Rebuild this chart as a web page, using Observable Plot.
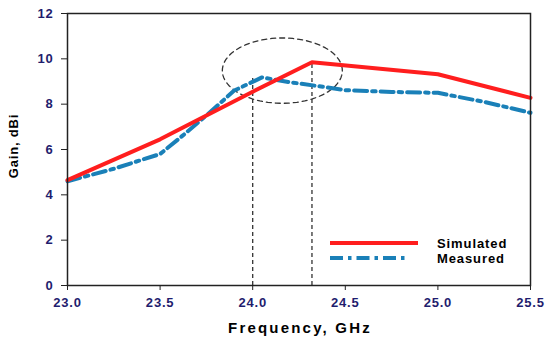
<!DOCTYPE html>
<html>
<head>
<meta charset="utf-8">
<script src="https://cdn.jsdelivr.net/npm/d3@7"></script>
<script src="https://cdn.jsdelivr.net/npm/@observablehq/plot@0.6"></script>
<style>
  body { margin: 0; background: #fff; font-family: "Liberation Sans", Arial, sans-serif; }
  #wrap { position: relative; width: 550px; height: 342px; }
  #overlay { position: absolute; left: 0; top: 0; pointer-events: none; }
  #wrap g[aria-label="x-axis tick label"] text, #wrap g[aria-label="y-axis tick label"] text { letter-spacing: 0.8px; }
</style>
</head>
<body>
<div id="wrap"></div>
<script>
// Data
const simFreq = [23.0, 23.5, 24.0, 24.32, 25.0, 25.5];
const simGain = [4.65, 6.45, 8.55, 9.85, 9.32, 8.28];

const measFreq = [23.0, 23.25, 23.5, 23.62, 23.75, 23.9, 24.05, 24.2, 24.35, 24.5, 24.75, 25.0, 25.25, 25.5];
const measGain = [4.6, 5.15, 5.8, 6.6, 7.5, 8.6, 9.18, 8.97, 8.8, 8.62, 8.54, 8.5, 8.1, 7.62];

const xTicks = [23.0, 23.5, 24.0, 24.5, 25.0, 25.5];
const yTicks = [0, 2, 4, 6, 8, 10, 12];

// Annotation: dashed markers at the two peaks and the ellipse around them
const markerFreq = [24.0, 24.32];
const markerGain = [9.15, 9.85];
const ellipseCenter = {x: 24.16, y: 9.48};
const ellipseRadius = {x: 0.324, y: 1.44};

const simulated = simFreq.map((f, i) => ({f, g: simGain[i]}));
const measured = measFreq.map((f, i) => ({f, g: measGain[i]}));
const markers = markerFreq.map((f, i) => ({f, g: markerGain[i]}));
const ellipse = d3.range(0, 361, 4).map(a => ({
  f: ellipseCenter.x + ellipseRadius.x * Math.cos(a * Math.PI / 180),
  g: ellipseCenter.y + ellipseRadius.y * Math.sin(a * Math.PI / 180)
}));

const navy = "#1f1d6e";
const red = "#ff1e1e";
const blue = "#1a80b8";
const dashDot = "13,5,3.5,5";
const font = "Liberation Sans, Arial, sans-serif";

const chart = Plot.plot({
  width: 550,
  height: 342,
  marginLeft: 67,
  marginRight: 20,
  marginTop: 13,
  marginBottom: 57,
  style: {fontFamily: font, background: "#fff"},
  x: {domain: [23, 25.5]},
  y: {domain: [0, 12]},
  marks: [
    Plot.ruleX(markers, {x: "f", y1: 0, y2: "g", stroke: "#333", strokeWidth: 1.3, strokeDasharray: "4,3"}),
    Plot.line(ellipse, {x: "f", y: "g", stroke: "#333", strokeWidth: 1.3, strokeDasharray: "5,4"}),
    Plot.line(measured, {x: "f", y: "g", stroke: blue, strokeWidth: 4, strokeDasharray: dashDot, strokeLinejoin: "round"}),
    Plot.line(simulated, {x: "f", y: "g", stroke: red, strokeWidth: 4, strokeLinejoin: "round"}),
    Plot.frame({stroke: "#222", strokeWidth: 1.5}),
    Plot.axisX({ticks: xTicks, tickFormat: d3.format(".1f"), tickSize: 5, tickPadding: 7,
      fontSize: 13, fontWeight: "bold", color: navy, stroke: "#222", label: null}),
    Plot.axisY({ticks: yTicks, tickSize: 6, tickPadding: 8,
      fontSize: 13, fontWeight: "bold", color: navy, stroke: "#222", label: null})
  ]
});

document.getElementById("wrap").appendChild(chart);

// Axis titles and in-plot legend as an overlay
const ov = d3.select("#wrap").append("svg").attr("id", "overlay")
  .attr("width", 550).attr("height", 342);

ov.append("text").attr("x", 300).attr("y", 333)
  .attr("text-anchor", "middle").attr("font-size", 15).attr("font-weight", "bold")
  .attr("letter-spacing", "2.2px").attr("fill", "#000").attr("font-family", font)
  .text("Frequency, GHz");

ov.append("text").attr("transform", "translate(18,146) rotate(-90)")
  .attr("text-anchor", "middle").attr("font-size", 13).attr("font-weight", "bold")
  .attr("letter-spacing", "0.8px").attr("fill", "#000").attr("font-family", font)
  .text("Gain, dBi");

const legendItems = [
  {label: "Simulated", color: red, dash: null, x2: 418, y: 243},
  {label: "Measured", color: blue, dash: dashDot, x2: 409, y: 258}
];
legendItems.forEach(d => {
  ov.append("line").attr("x1", 330).attr("x2", d.x2).attr("y1", d.y).attr("y2", d.y)
    .attr("stroke", d.color).attr("stroke-width", 4)
    .attr("stroke-dasharray", d.dash);
  ov.append("text").attr("x", 437).attr("y", d.y + 4.5)
    .attr("font-size", 13).attr("font-weight", "bold").attr("letter-spacing", "0.9px")
    .attr("fill", "#000").attr("font-family", font)
    .text(d.label);
});
</script>
</body>
</html>
